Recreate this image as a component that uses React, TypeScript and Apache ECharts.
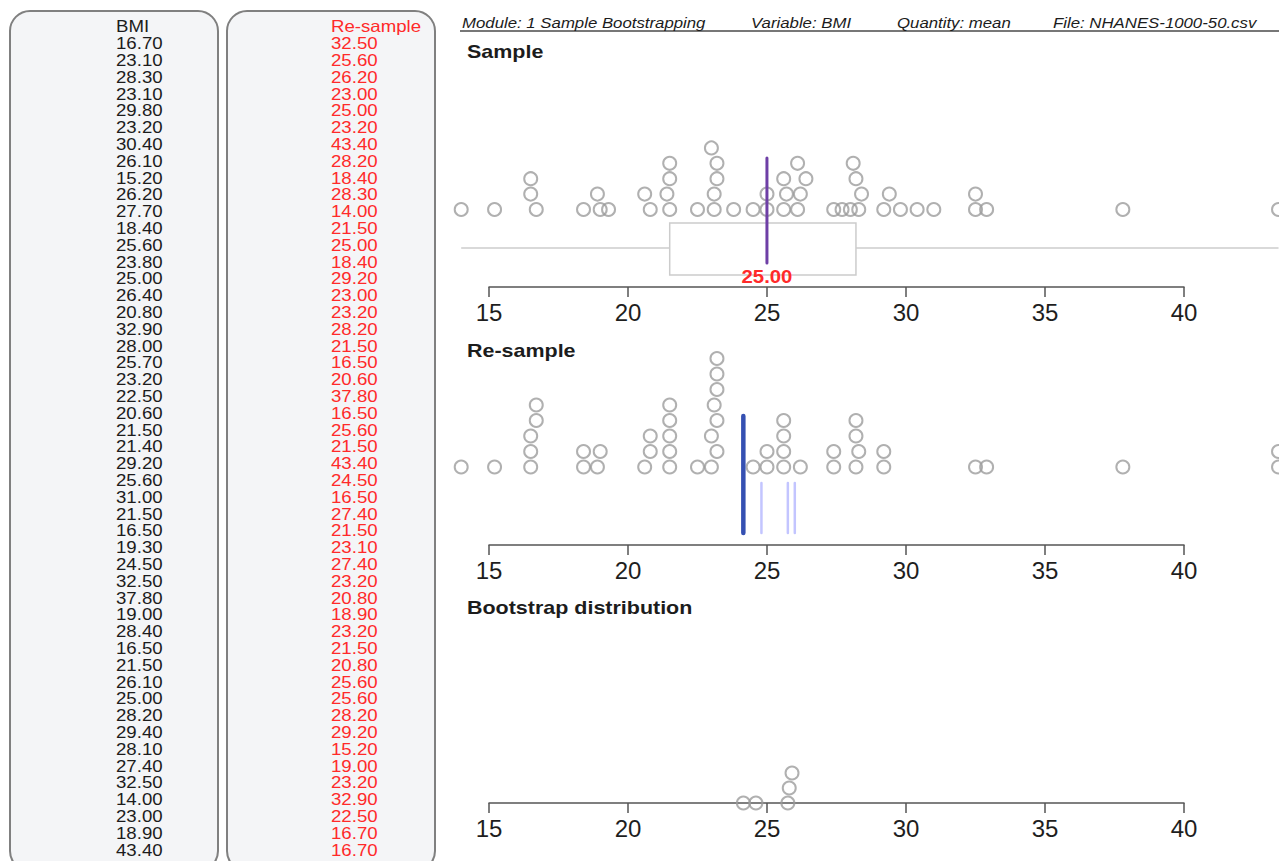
import React, { useEffect, useRef } from "react";
import * as echarts from "echarts";

const FONT = '"Liberation Sans", Arial, Helvetica, sans-serif';

// ---------- data ----------
const sampleLabel = "BMI";
const resampleLabel = "Re-sample";
const sampleBMI = [
  16.7, 23.1, 28.3, 23.1, 29.8, 23.2, 30.4, 26.1, 15.2, 26.2, 27.7, 18.4, 25.6, 23.8, 25.0, 26.4, 20.8,
  32.9, 28.0, 25.7, 23.2, 22.5, 20.6, 21.5, 21.4, 29.2, 25.6, 31.0, 21.5, 16.5, 19.3, 24.5, 32.5, 37.8,
  19.0, 28.4, 16.5, 21.5, 26.1, 25.0, 28.2, 29.4, 28.1, 27.4, 32.5, 14.0, 23.0, 18.9, 43.4,
];
const resampleBMI = [
  32.5, 25.6, 26.2, 23.0, 25.0, 23.2, 43.4, 28.2, 18.4, 28.3, 14.0, 21.5, 25.0, 18.4, 29.2, 23.0, 23.2,
  28.2, 21.5, 16.5, 20.6, 37.8, 16.5, 25.6, 21.5, 43.4, 24.5, 16.5, 27.4, 21.5, 23.1, 27.4, 23.2, 20.8,
  18.9, 23.2, 21.5, 20.8, 25.6, 25.6, 28.2, 29.2, 15.2, 19.0, 23.2, 32.9, 22.5, 16.7, 16.7,
];
const previousMeans = [24.8, 25.75, 26.0];
const bootstrapMeans = [24.6, 25.75, 25.8, 25.9, 24.15];
const axisTicks = [15, 20, 25, 30, 35, 40];
const headerLabels = [
  "Module: 1 Sample Bootstrapping",
  "Variable: BMI",
  "Quantity: mean",
  "File: NHANES-1000-50.csv",
];
const panelTitles = ["Sample", "Re-sample", "Bootstrap distribution"];

// ---------- helpers ----------
function stackLevels(values: number[], threshold: number): number[] {
  const placed: { v: number; lvl: number }[] = [];
  return values.map((v) => {
    let lvl = 0;
    while (placed.some((p) => p.lvl === lvl && Math.abs(p.v - v) < threshold)) lvl++;
    placed.push({ v, lvl });
    return lvl;
  });
}
function mean(a: number[]) {
  return a.reduce((s, v) => s + v, 0) / a.length;
}
function quantile(sorted: number[], p: number) {
  const pos = (sorted.length - 1) * p;
  const lo = Math.floor(pos);
  const hi = Math.ceil(pos);
  return sorted[lo] + (sorted[hi] - sorted[lo]) * (pos - lo);
}

export default function App() {
  const ref = useRef<HTMLDivElement>(null);

  useEffect(() => {
    const chart = echarts.init(ref.current!, null, { renderer: "svg" });

    const grids = [
      { left: 489, width: 695, top: 60, height: 227 },
      { left: 489, width: 695, top: 330, height: 215 },
      { left: 489, width: 695, top: 620, height: 183 },
    ];

    const sortedSample = [...sampleBMI].sort((a, b) => a - b);
    const sMin = sortedSample[0];
    const sMax = sortedSample[sortedSample.length - 1];
    const q1 = quantile(sortedSample, 0.25);
    const q3 = quantile(sortedSample, 0.75);
    const sampleMean = mean(sampleBMI);
    const resampleMean = mean(resampleBMI);

    const sLv = stackLevels(sampleBMI, 0.3);
    const rLv = stackLevels(resampleBMI, 0.3);
    const bLv = stackLevels(bootstrapMeans, 0.3);

    const ringStyle = {
      color: "rgba(255,255,255,0)",
      borderColor: "#9c9c9c",
      borderWidth: 2,
    };

    const xAxes = grids.map((_, i) => ({
      type: "value",
      gridIndex: i,
      min: 15,
      max: 40,
      interval: 5,
      axisLine: { show: true, onZero: false, lineStyle: { color: "#555", width: 1.5 } },
      axisTick: { show: true, length: 10, lineStyle: { color: "#555", width: 1.5 } },
      axisLabel: {
        fontSize: 24,
        color: "#1e1e1e",
        fontFamily: FONT,
        margin: 13,
        customValues: axisTicks,
      },
      splitLine: { show: false },
    }));
    const yAxes = grids.map((g, i) => ({
      type: "value",
      gridIndex: i,
      min: 0,
      max: g.height,
      show: false,
    }));

    const vLine = (color: string, width: number, y0: number, y1: number) =>
      (params: any, api: any) => {
        const v = api.value(0);
        const a = api.coord([v, y0]);
        const b = api.coord([v, y1]);
        return {
          type: "line",
          shape: { x1: a[0], y1: a[1], x2: b[0], y2: b[1] },
          style: { stroke: color, lineWidth: width, lineCap: "round" },
        };
      };

    const series: any[] = [
      // sample box plot
      {
        type: "custom",
        xAxisIndex: 0,
        yAxisIndex: 0,
        clip: false,
        z: 1,
        data: [[sMin, q1, q3, sMax]],
        renderItem: (params: any, api: any) => {
          const w0 = api.coord([api.value(0), 39]);
          const w1 = api.coord([api.value(3), 39]);
          const b0 = api.coord([api.value(1), 64]);
          const b1 = api.coord([api.value(2), 12]);
          return {
            type: "group",
            children: [
              {
                type: "line",
                shape: { x1: w0[0], y1: w0[1], x2: w1[0], y2: w1[1] },
                style: { stroke: "#cccccc", lineWidth: 1.5 },
              },
              {
                type: "rect",
                shape: { x: b0[0], y: b0[1], width: b1[0] - b0[0], height: b1[1] - b0[1] },
                style: { fill: "#ffffff", stroke: "#cccccc", lineWidth: 1.5 },
              },
            ],
          };
        },
      },
      // sample dots
      {
        type: "scatter",
        xAxisIndex: 0,
        yAxisIndex: 0,
        clip: false,
        z: 2,
        symbol: "circle",
        symbolSize: 13,
        itemStyle: ringStyle,
        data: sampleBMI.map((v, i) => [v, 77.5 + sLv[i] * 15.4]),
      },
      // sample mean line
      {
        type: "custom",
        xAxisIndex: 0,
        yAxisIndex: 0,
        clip: false,
        z: 3,
        data: [[sampleMean]],
        renderItem: vLine("#6e3fa6", 3, 24, 129),
      },
      // sample mean label
      {
        type: "custom",
        xAxisIndex: 0,
        yAxisIndex: 0,
        clip: false,
        z: 4,
        data: [[sampleMean, 10]],
        renderItem: (params: any, api: any) => {
          const p = api.coord([api.value(0), api.value(1)]);
          return {
            type: "text",
            x: p[0],
            y: p[1],
            scaleX: 1.13,
            style: {
              text: api.value(0).toFixed(2),
              fill: "#ff2a2a",
              font: `bold 18px ${FONT}`,
              align: "center",
              verticalAlign: "middle",
              textAlign: "center",
              textVerticalAlign: "middle",
            },
          };
        },
      },
      // resample dots
      {
        type: "scatter",
        xAxisIndex: 1,
        yAxisIndex: 1,
        clip: false,
        z: 2,
        symbol: "circle",
        symbolSize: 13,
        itemStyle: ringStyle,
        data: resampleBMI.map((v, i) => [v, 78 + rLv[i] * 15.5]),
      },
      // previous resample means
      {
        type: "custom",
        xAxisIndex: 1,
        yAxisIndex: 1,
        clip: false,
        z: 3,
        data: previousMeans.map((v) => [v]),
        renderItem: vLine("#c3c5ff", 2.5, 12, 62),
      },
      // current resample mean
      {
        type: "custom",
        xAxisIndex: 1,
        yAxisIndex: 1,
        clip: false,
        z: 4,
        data: [[resampleMean]],
        renderItem: vLine("#3550b2", 4.5, 12, 129),
      },
      // bootstrap distribution
      {
        type: "scatter",
        xAxisIndex: 2,
        yAxisIndex: 2,
        clip: false,
        z: 2,
        symbol: "circle",
        symbolSize: 13,
        itemStyle: ringStyle,
        data: bootstrapMeans.map((v, i) => [v, bLv[i] * 15]),
      },
    ];

    const textEl = (
      text: string,
      x: number,
      y: number,
      font: string,
      fill: string,
      scaleX = 1.13
    ) => ({
      type: "text",
      x,
      y,
      scaleX,
      z: 10,
      style: {
        text,
        x: 0,
        y: 0,
        font,
        fill,
        align: "left",
        verticalAlign: "middle",
        textAlign: "left",
        textVerticalAlign: "middle",
      },
    });

    const graphics: any[] = [];
    // left panels
    [10, 227].forEach((px) => {
      graphics.push({
        type: "rect",
        z: 0,
        shape: { x: px, y: 11, width: 208, height: 860, r: 20 },
        style: { fill: "#f4f5f7", stroke: "#808080", lineWidth: 2 },
      });
    });
    const rowY = (i: number) => 26.8 + i * 16.8;
    const colFont = `16.5px ${FONT}`;
    graphics.push(textEl(sampleLabel, 116, rowY(0), colFont, "#1c1c1c"));
    sampleBMI.forEach((v, i) => graphics.push(textEl(v.toFixed(2), 116, rowY(i + 1), colFont, "#1c1c1c")));
    graphics.push(textEl(resampleLabel, 331, rowY(0), colFont, "#ff2a2a"));
    resampleBMI.forEach((v, i) => graphics.push(textEl(v.toFixed(2), 331, rowY(i + 1), colFont, "#ff2a2a")));

    // header
    const headerX = [462, 751, 897, 1053];
    headerLabels.forEach((t, i) =>
      graphics.push(textEl(t, headerX[i], 22.5, `italic 15px ${FONT}`, "#1c1c1c", 1.12))
    );
    graphics.push({
      type: "line",
      z: 5,
      shape: { x1: 460, y1: 31, x2: 1279, y2: 31 },
      style: { stroke: "#777777", lineWidth: 2 },
    });

    // panel titles
    const titleY = [51, 350, 607];
    panelTitles.forEach((t, i) =>
      graphics.push(textEl(t, 467, titleY[i], `bold 19px ${FONT}`, "#1c1c1c", 1.13))
    );

    chart.setOption({
      animation: false,
      backgroundColor: "#ffffff",
      textStyle: { fontFamily: FONT },
      grid: grids,
      xAxis: xAxes,
      yAxis: yAxes,
      series,
      graphic: { elements: graphics },
    });

    return () => chart.dispose();
  }, []);

  return (
    <div
      ref={ref}
      style={{ position: "fixed", left: 0, top: 0, width: 1279, height: 861, background: "#fff" }}
    />
  );
}
